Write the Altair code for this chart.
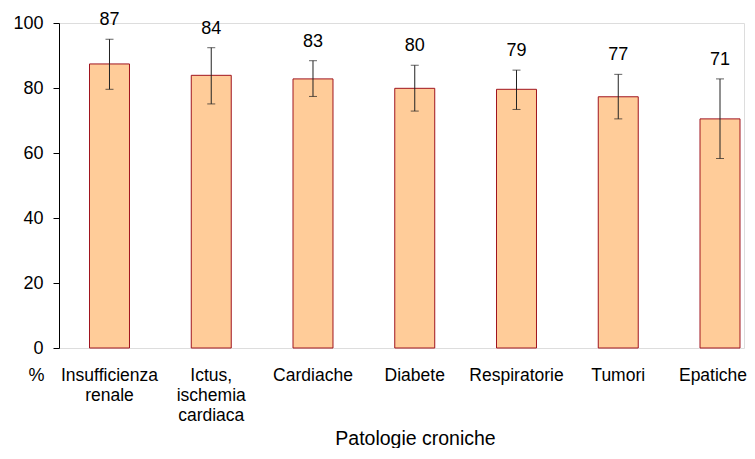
import altair as alt
import pandas as pd

categories = ["Insufficienza renale", "Ictus, ischemia cardiaca", "Cardiache", "Diabete",
              "Respiratorie", "Tumori", "Epatiche"]
values = [87.4, 83.9, 82.8, 79.9, 79.6, 77.3, 70.5]
labels = ["87", "84", "83", "80", "79", "77", "71"]
err_low = [79.6, 75.1, 77.4, 72.9, 73.4, 70.5, 58.3]
err_high = [95.0, 92.4, 88.4, 87.0, 85.5, 84.2, 82.8]
y_ticks = [0, 20, 40, 60, 80, 100]
unit_label = ["%"]

df = pd.DataFrame({"cat": categories, "val": values, "lab": labels,
                   "lo": err_low, "hi": err_high})
df_unit = pd.DataFrame({"t": unit_label})

FONT = "Liberation Sans"

x = alt.X("cat:N", sort=categories,
          scale=alt.Scale(range=[30.5, 681], paddingInner=0.607, paddingOuter=0, round=False),
          axis=alt.Axis(title="Patologie croniche", labelAngle=0, ticks=False, domain=False,
                        labelPadding=18, labelFont=FONT, labelFontSize=17.5,
                        labelColor="#000", labelLineHeight=20,
                        labelExpr="split(datum.label, ' ')",
                        labelOffset={"condition": {"test": "datum.value == 'Epatiche'", "value": -7},
                                     "value": 0},
                        titleFont=FONT, titleFontSize=19.5, titleFontWeight="normal",
                        titleColor="#000", titleX=356, titleY=96,
                        titleBaseline="alphabetic", titleAlign="center"))
y_scale = alt.Scale(domain=[0, 100], nice=False)
y_axis = alt.Axis(title=None, values=y_ticks, grid=False, domainColor="#000",
                  tickColor="#000", tickSize=6, labelPadding=10, labelFont=FONT,
                  labelFontSize=18, labelColor="#000")

base = alt.Chart(df)
xs = alt.X("cat:N", sort=categories)

bars = base.mark_bar(color="#FFCC99", stroke="#A0141E", strokeWidth=1).encode(
    x=x, y=alt.Y("val:Q", scale=y_scale, axis=y_axis))
rules = base.mark_rule(color="#222", strokeWidth=1).encode(x=xs, y="lo:Q", y2="hi:Q")
cap_lo = base.mark_tick(color="#222", thickness=1, size=8).encode(x=xs, y="lo:Q")
cap_hi = base.mark_tick(color="#222", thickness=1, size=8).encode(x=xs, y="hi:Q")
text = base.mark_text(font=FONT, fontSize=18, color="#000", dy=-19, baseline="middle").encode(
    x=xs, y="hi:Q", text="lab:N")
pct = alt.Chart(df_unit).mark_text(font=FONT, fontSize=18, color="#000",
                                   baseline="alphabetic", align="center").encode(
    x=alt.value(-22.5), y=alt.value(358), text="t:N")

chart = alt.layer(bars, rules, cap_lo, cap_hi, text, pct).properties(
    width=685, height=325,
    padding={"left": 51, "top": 15, "right": 3, "bottom": 100},
    autosize=alt.AutoSizeParams(type="none"),
).configure_view(stroke=None).configure(background="white")

chart.save("out.html", embed_options={"renderer": "svg", "actions": False})
